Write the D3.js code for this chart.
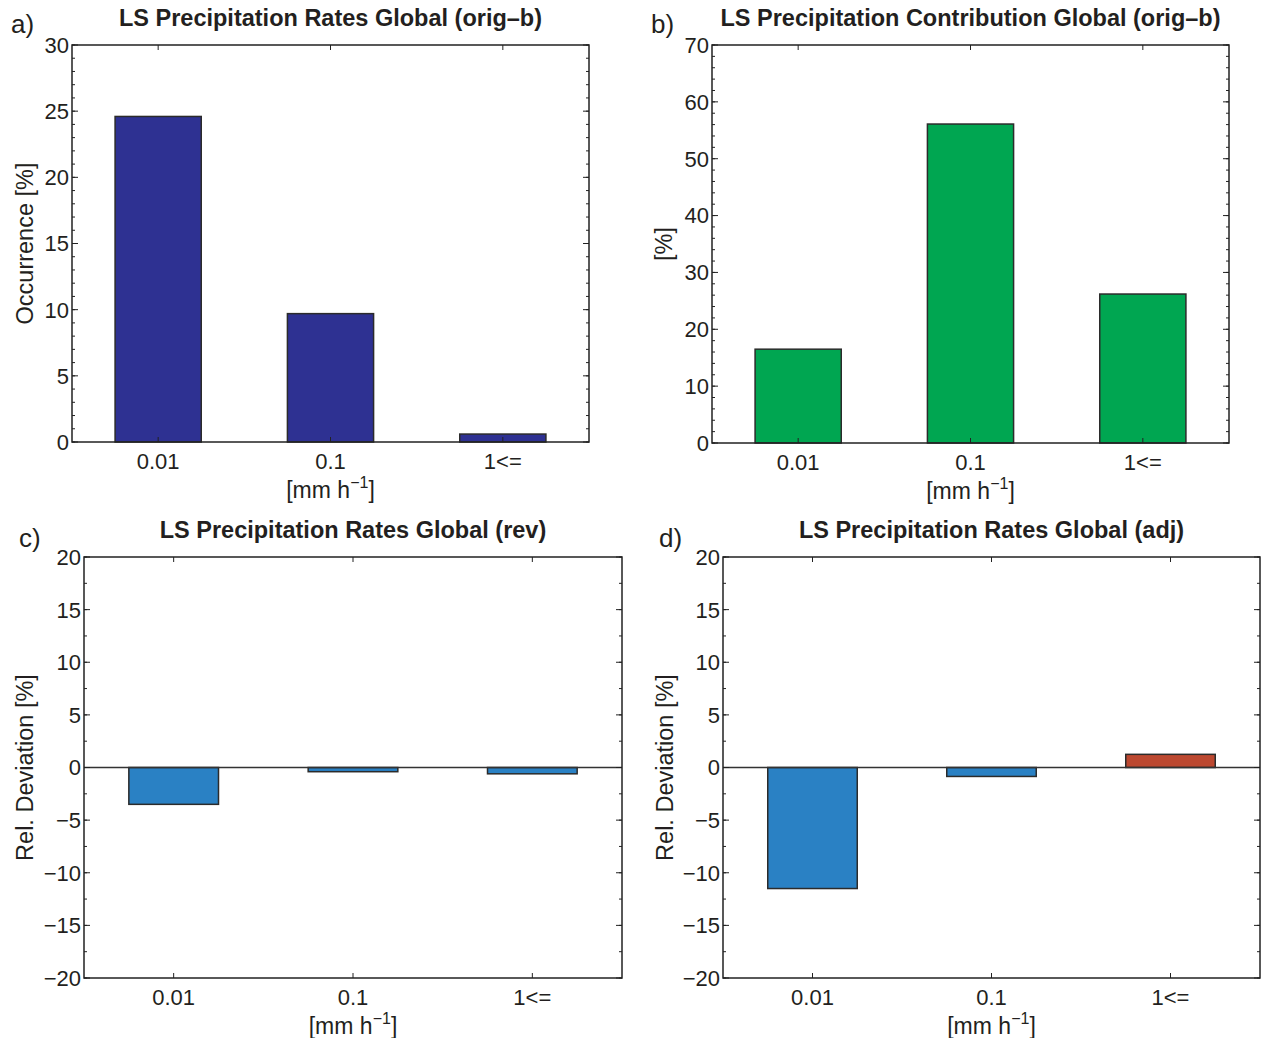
<!DOCTYPE html>
<html>
<head>
<meta charset="utf-8">
<script src="https://cdn.jsdelivr.net/npm/d3@7"></script>
<style>
  body { margin: 0; background: white; }
  svg text { font-family: "Liberation Sans", Arial, Helvetica, sans-serif; fill: #231f20; }
</style>
</head>
<body>
<svg id="chart" width="1261" height="1038"></svg>
<script>
// Categories (precipitation rate classes)
const categories = ["0.01", "0.1", "1<="];

// Series values
const occurrenceOrig = [24.6, 9.7, 0.6];
const contributionOrig = [16.5, 56.1, 26.2];
const deviationRev = [-3.5, -0.4, -0.6];
const deviationAdj = [-11.5, -0.85, 1.25];

// Tick labels
const occurrenceTicks = [0, 5, 10, 15, 20, 25, 30];
const contributionTicks = [0, 10, 20, 30, 40, 50, 60, 70];
const deviationTicks = [-20, -15, -10, -5, 0, 5, 10, 15, 20];

const svg = d3.select("#chart");

const panels = [
    { label: "a)", title: "LS Precipitation Rates Global (orig\u2013b)", ylabel: "Occurrence [%]",
      values: occurrenceOrig, ticks: occurrenceTicks, minor: 1, domain: [0, 30],
      box: { left: 72, top: 45, right: 589, bottom: 442 }, ylabelX: 33, labelX: 11, labelY: 33,
      color: d => "#2e3192", zeroLine: false },
    { label: "b)", title: "LS Precipitation Contribution Global (orig\u2013b)", ylabel: "[%]",
      values: contributionOrig, ticks: contributionTicks, minor: 2, domain: [0, 70],
      box: { left: 712, top: 45, right: 1229, bottom: 443 }, ylabelX: 672, labelX: 651, labelY: 33,
      color: d => "#00a651", zeroLine: false },
    { label: "c)", title: "LS Precipitation Rates Global (rev)", ylabel: "Rel. Deviation [%]",
      values: deviationRev, ticks: deviationTicks, minor: 2.5, domain: [-20, 20],
      box: { left: 84, top: 557, right: 622, bottom: 978 }, ylabelX: 33, labelX: 19, labelY: 547,
      color: d => d < 0 ? "#2a81c4" : "#bc4830", zeroLine: true },
    { label: "d)", title: "LS Precipitation Rates Global (adj)", ylabel: "Rel. Deviation [%]",
      values: deviationAdj, ticks: deviationTicks, minor: 2.5, domain: [-20, 20],
      box: { left: 723, top: 557, right: 1260, bottom: 978 }, ylabelX: 673, labelX: 659, labelY: 547,
      color: d => d < 0 ? "#2a81c4" : "#bc4830", zeroLine: true }
];

function fmt(v) {
    return v < 0 ? "\u2212" + Math.abs(v) : String(v);
}

panels.forEach(function(p) {
    const b = p.box;
    const g = svg.append("g");

    const x = d3.scaleLinear().domain([0.5, categories.length + 0.5]).range([b.left, b.right]);
    const y = d3.scaleLinear().domain(p.domain).range([b.bottom, b.top]);
    const barW = x(1.25) - x(0.75);

    // bars
    g.selectAll("rect.bar")
        .data(p.values)
        .enter().append("rect")
        .attr("class", "bar")
        .attr("x", (d, i) => x(i + 1) - barW / 2)
        .attr("y", d => y(Math.max(0, d)))
        .attr("width", barW)
        .attr("height", d => Math.abs(y(d) - y(0)))
        .attr("fill", d => p.color(d))
        .attr("stroke", "#2b2b2b")
        .attr("stroke-width", 1.5);

    // zero line
    if (p.zeroLine) {
        g.append("line")
            .attr("x1", b.left).attr("x2", b.right)
            .attr("y1", y(0)).attr("y2", y(0))
            .attr("stroke", "#333")
            .attr("stroke-width", 1.5);
    }

    // minor ticks (left and right, inward)
    const minorTicks = d3.range(p.domain[0], p.domain[1] + 0.001, p.minor);
    minorTicks.forEach(function(t) {
        g.append("line").attr("x1", b.left).attr("x2", b.left + 3)
            .attr("y1", y(t)).attr("y2", y(t)).attr("stroke", "#222").attr("stroke-width", 1);
        g.append("line").attr("x1", b.right).attr("x2", b.right - 3)
            .attr("y1", y(t)).attr("y2", y(t)).attr("stroke", "#222").attr("stroke-width", 1);
    });

    // major ticks + labels
    p.ticks.forEach(function(t) {
        g.append("line").attr("x1", b.left).attr("x2", b.left + 6)
            .attr("y1", y(t)).attr("y2", y(t)).attr("stroke", "#222").attr("stroke-width", 1);
        g.append("line").attr("x1", b.right).attr("x2", b.right - 6)
            .attr("y1", y(t)).attr("y2", y(t)).attr("stroke", "#222").attr("stroke-width", 1);
        g.append("text")
            .attr("x", b.left - 3)
            .attr("y", y(t))
            .attr("dy", "0.36em")
            .attr("text-anchor", "end")
            .attr("font-size", "22px")
            .text(fmt(t));
    });

    // x ticks top and bottom + labels
    categories.forEach(function(c, i) {
        const cx = x(i + 1);
        g.append("line").attr("x1", cx).attr("x2", cx)
            .attr("y1", b.bottom).attr("y2", b.bottom - 5).attr("stroke", "#222");
        g.append("line").attr("x1", cx).attr("x2", cx)
            .attr("y1", b.top).attr("y2", b.top + 5).attr("stroke", "#222");
        g.append("text")
            .attr("x", cx)
            .attr("y", b.bottom + 27)
            .attr("text-anchor", "middle")
            .attr("font-size", "22px")
            .text(c);
    });

    // frame
    g.append("rect")
        .attr("x", b.left).attr("y", b.top)
        .attr("width", b.right - b.left).attr("height", b.bottom - b.top)
        .attr("fill", "none")
        .attr("stroke", "#222")
        .attr("stroke-width", 1.5);

    // x axis label with superscript
    const xl = g.append("text")
        .attr("x", x(2))
        .attr("y", b.bottom + 56)
        .attr("text-anchor", "middle")
        .attr("font-size", "23px");
    xl.append("tspan").text("[mm h");
    xl.append("tspan").attr("dy", -10).attr("font-size", "16px").text("\u22121");
    xl.append("tspan").attr("dy", 10).text("]");

    // y axis label
    g.append("text")
        .attr("transform", "translate(" + p.ylabelX + "," + ((b.top + b.bottom) / 2) + ") rotate(-90)")
        .attr("text-anchor", "middle")
        .attr("font-size", "23.5px")
        .text(p.ylabel);

    // title
    g.append("text")
        .attr("x", (b.left + b.right) / 2)
        .attr("y", b.top - 19)
        .attr("text-anchor", "middle")
        .attr("font-size", "23.5px")
        .attr("font-weight", "bold")
        .text(p.title);

    // panel label
    g.append("text")
        .attr("x", p.labelX)
        .attr("y", p.labelY)
        .attr("font-size", "26px")
        .text(p.label);
});
</script>
</body>
</html>
